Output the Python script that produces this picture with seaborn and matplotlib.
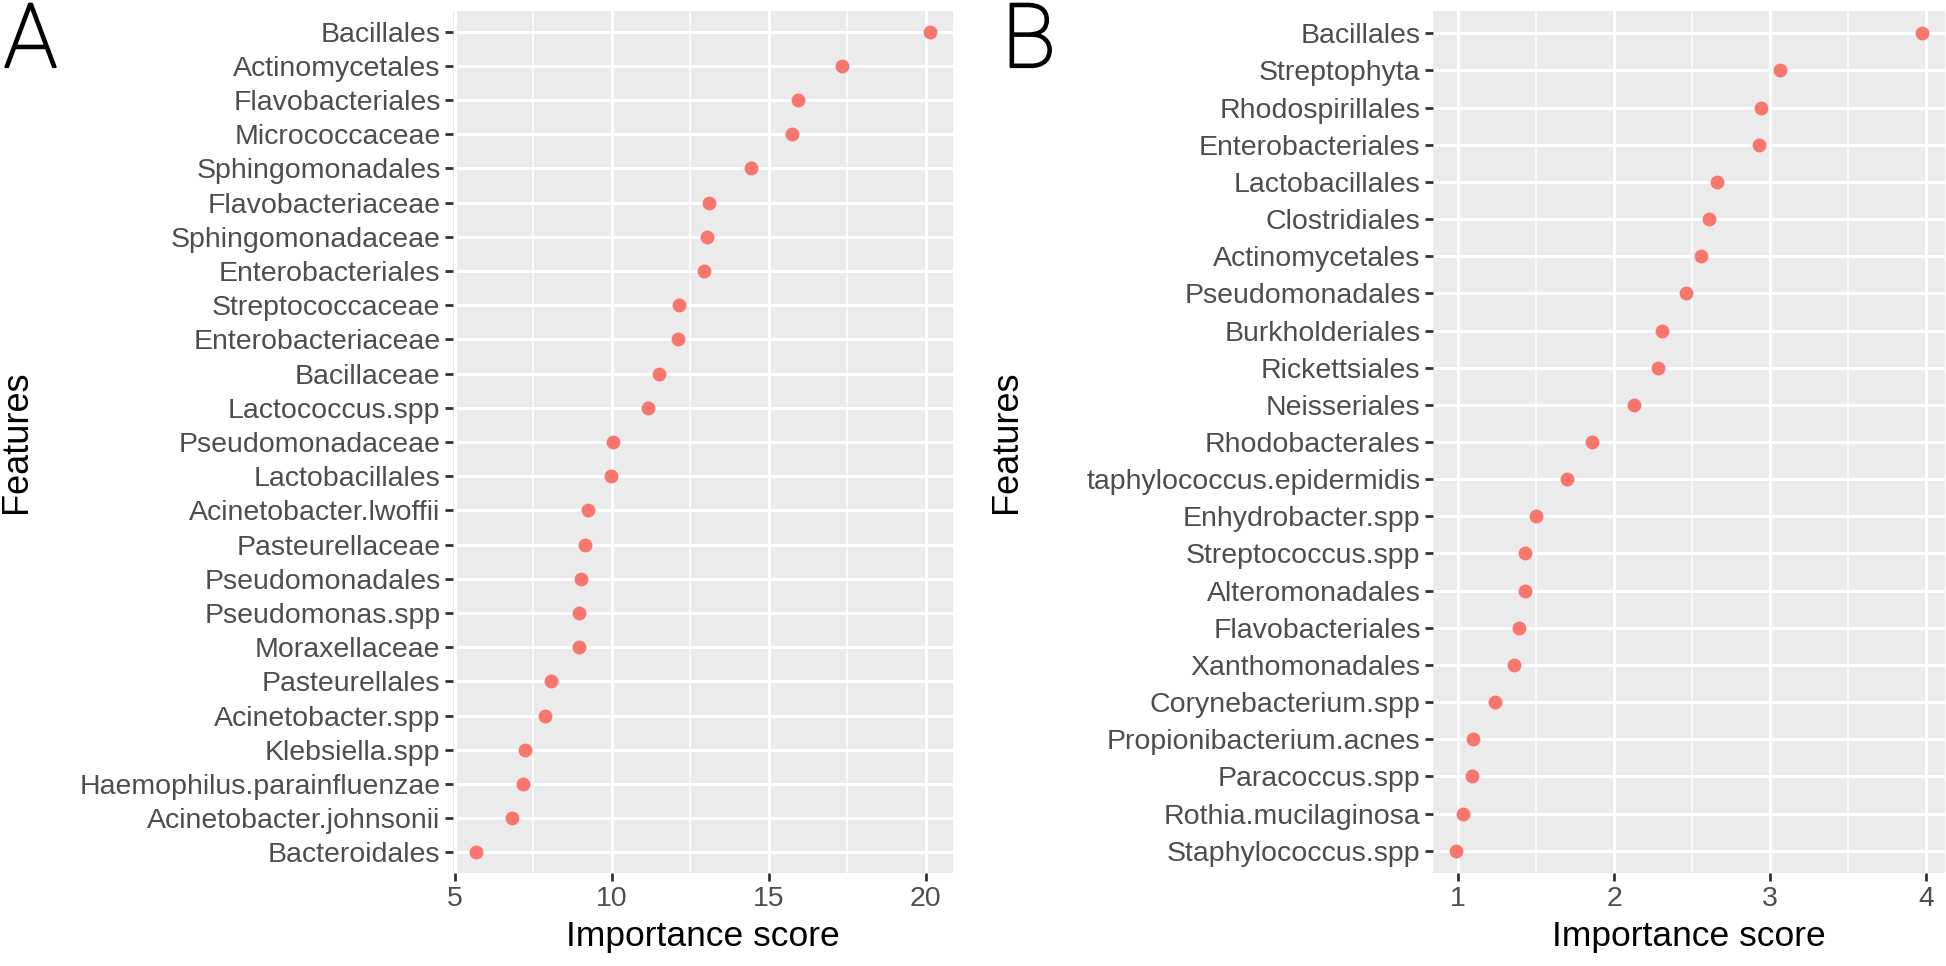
import matplotlib
matplotlib.use("Agg")
import matplotlib.pyplot as plt
import matplotlib.patheffects as pe
import seaborn as sns
import numpy as np

# Panel A: features and importance scores
features_a = ["Bacillales", "Actinomycetales", "Flavobacteriales", "Micrococcaceae",
              "Sphingomonadales", "Flavobacteriaceae", "Sphingomonadaceae", "Enterobacteriales",
              "Streptococcaceae", "Enterobacteriaceae", "Bacillaceae", "Lactococcus.spp",
              "Pseudomonadaceae", "Lactobacillales", "Acinetobacter.lwoffii", "Pasteurellaceae",
              "Pseudomonadales", "Pseudomonas.spp", "Moraxellaceae", "Pasteurellales",
              "Acinetobacter.spp", "Klebsiella.spp", "Haemophilus.parainfluenzae",
              "Acinetobacter.johnsonii", "Bacteroidales"]
scores_a = [20.15, 17.33, 15.95, 15.76, 14.44, 13.11, 13.05, 12.95, 12.16, 12.12,
            11.52, 11.15, 10.03, 9.99, 9.24, 9.16, 9.01, 8.95, 8.95, 8.08,
            7.88, 7.25, 7.17, 6.82, 5.67]
ticks_a = [5, 10, 15, 20]

# Panel B
features_b = ["Bacillales", "Streptophyta", "Rhodospirillales", "Enterobacteriales",
              "Lactobacillales", "Clostridiales", "Actinomycetales", "Pseudomonadales",
              "Burkholderiales", "Rickettsiales", "Neisseriales", "Rhodobacterales",
              "taphylococcus.epidermidis", "Enhydrobacter.spp", "Streptococcus.spp",
              "Alteromonadales", "Flavobacteriales", "Xanthomonadales", "Corynebacterium.spp",
              "Propionibacterium.acnes", "Paracoccus.spp", "Rothia.mucilaginosa",
              "Staphylococcus.spp"]
scores_b = [3.97, 3.06, 2.94, 2.93, 2.66, 2.61, 2.56, 2.46, 2.31, 2.28, 2.13, 1.86,
            1.70, 1.50, 1.43, 1.43, 1.39, 1.36, 1.24, 1.10, 1.09, 1.03, 0.99]
ticks_b = [1, 2, 3, 4]

sns.set_theme(style="darkgrid")
plt.rcParams["font.family"] = ["Liberation Sans", "DejaVu Sans"]

W, H = 1946, 966
fig = plt.figure(figsize=(W / 100, H / 100), dpi=100)


def panel(rect, names, vals, ticks, letter, letter_x, feat_x):
    ax = fig.add_axes([rect[0] / W, 1 - rect[3] / H, (rect[2] - rect[0]) / W, (rect[3] - rect[1]) / H])
    ax.set_facecolor("#EBEBEB")
    sns.stripplot(x=vals, y=names, order=names, jitter=False, ax=ax, color="#F8766D",
                  size=10, linewidth=0, zorder=3)
    ax.set_xticks(ticks)
    step = ticks[1] - ticks[0]
    minors = [ticks[0] - step / 2] + [t + step / 2 for t in ticks]
    ax.set_xticks(minors, minor=True)
    # ggplot-like expansion: 5% on x, 0.6 units on discrete y
    n = len(names)
    ax.set_ylim(n - 1 + 0.6, -0.6)
    lo, hi = min(vals), max(vals)
    pad = (hi - lo) * 0.05
    ax.set_xlim(lo - pad, hi + pad)
    ax.grid(which="major", color="white", linewidth=2.2)
    ax.grid(which="minor", axis="x", color="white", linewidth=1.1)
    ax.set_axisbelow(True)
    for s in ax.spines.values():
        s.set_visible(False)
    ax.tick_params(axis="both", which="major", bottom=True, left=True, length=6, width=2,
                   color="#333333", labelsize=20.5, labelcolor="#4D4D4D", pad=3)
    ax.tick_params(axis="x", which="minor", bottom=False, length=0)
    ax.set_ylabel("")
    ax.set_xlabel("Importance score", fontsize=25.5, color="black", labelpad=6)
    fig.text(feat_x / W, 1 - 442 / H, "Features", rotation=90, ha="center", va="center",
             fontsize=26, color="black")
    t = fig.text(letter_x / W, 1 - 67 / H, letter, ha="left", va="baseline", fontsize=64,
                 family=["Roboto", "DejaVu Sans"], fontweight="light", color="black")
    t.set_path_effects([pe.withStroke(linewidth=1.6, foreground="black")])
    return ax


panel((453, 11, 953, 873), features_a, scores_a, ticks_a, "A", 4, 17)
panel((1433, 11, 1945, 873), features_b, scores_b, ticks_b, "B", 1002, 1006)

fig.savefig("out.png", dpi=100)
